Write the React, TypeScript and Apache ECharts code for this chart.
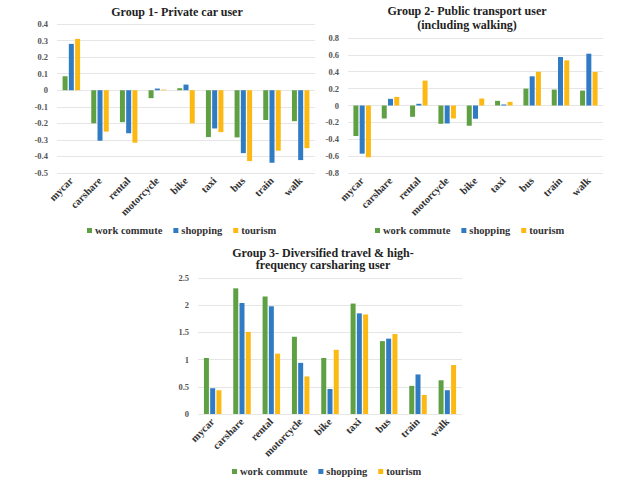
import React, { useEffect, useRef } from "react";
import * as echarts from "echarts";

const categories = ["mycar", "carshare", "rental", "motorcycle", "bike", "taxi", "bus", "train", "walk"];
const seriesNames = ["work commute", "shopping", "tourism"];
const colors = ["#5FA044", "#2F7BC4", "#FDB913"];

const g1Work = [0.084, -0.2, -0.193, -0.048, 0.012, -0.283, -0.285, -0.18, -0.187];
const g1Shop = [0.28, -0.305, -0.26, 0.01, 0.034, -0.231, -0.38, -0.438, -0.422];
const g1Tour = [0.31, -0.25, -0.317, 0.004, -0.2, -0.253, -0.428, -0.365, -0.35];

const g2Work = [-0.362, -0.154, -0.134, -0.217, -0.24, 0.055, 0.2, 0.189, 0.177];
const g2Shop = [-0.571, 0.079, 0.02, -0.213, -0.157, 0.012, 0.346, 0.575, 0.614];
const g2Tour = [-0.614, 0.102, 0.295, -0.154, 0.083, 0.043, 0.4, 0.535, 0.398];

const g3Work = [1.03, 2.31, 2.16, 1.42, 1.03, 2.03, 1.34, 0.517, 0.62];
const g3Shop = [0.474, 2.04, 1.98, 0.94, 0.46, 1.85, 1.385, 0.727, 0.437];
const g3Tour = [0.437, 1.51, 1.11, 0.69, 1.18, 1.83, 1.47, 0.35, 0.9];

const titles = [
  "Group 1- Private car user",
  "Group 2- Public transport user\n(including walking)",
  "Group 3- Diversified travel & high-\nfrequency carsharing user",
];

const FONT = "Liberation Serif";

export default function App() {
  const ref = useRef<HTMLDivElement>(null);
  useEffect(() => {
    if (!ref.current) return;
    const chart = echarts.init(ref.current, null, { renderer: "svg" });
    const grids = [
      { left: 57, top: 24, width: 258, height: 149 },
      { left: 348, top: 38, width: 255, height: 135 },
      { left: 198, top: 278, width: 264, height: 136 },
    ];
    const yRanges = [
      { min: -0.5, max: 0.4, interval: 0.1 },
      { min: -0.8, max: 0.8, interval: 0.2 },
      { min: 0, max: 2.5, interval: 0.5 },
    ];
    const data = [
      [g1Work, g1Shop, g1Tour],
      [g2Work, g2Shop, g2Tour],
      [g3Work, g3Shop, g3Tour],
    ];
    const titleCfg = [
      { x: 177, y: 4.5, fs: 12, lh: 14 },
      { x: 467, y: 4, fs: 12, lh: 14 },
      { x: 323, y: 246.5, fs: 12, lh: 12.5 },
    ];
    const legendPos = [
      { x: 87, y: 225 },
      { x: 375, y: 225 },
      { x: 232, y: 466 },
    ];
    const series: any[] = [];
    data.forEach((grp, gi) => {
      grp.forEach((vals, si) => {
        series.push({
          type: "bar",
          name: seriesNames[si],
          xAxisIndex: gi,
          yAxisIndex: gi,
          data: vals,
          barWidth: 5,
          barGap: "25%",
          itemStyle: { color: colors[si] },
        });
      });
    });
    chart.setOption({
      animation: false,
      backgroundColor: "#ffffff",
      title: titles.map((t, i) => ({
        text: t,
        left: titleCfg[i].x,
        top: titleCfg[i].y,
        padding: 0,
        textAlign: "center",
        textStyle: {
          fontFamily: FONT,
          fontWeight: "bold",
          fontSize: titleCfg[i].fs,
          lineHeight: titleCfg[i].lh,
          color: "#222",
        },
      })),
      legend: legendPos.map((p) => ({
        data: seriesNames,
        left: p.x,
        top: p.y,
        padding: 0,
        width: 260,
        icon: "rect",
        itemWidth: 5,
        itemHeight: 5,
        itemGap: 11,
        textStyle: { fontFamily: FONT, fontWeight: "bold", fontSize: 10.5, color: "#333", padding: [0, 0, 0, -2] },
      })),
      grid: grids,
      xAxis: grids.map((_, i) => ({
        type: "category",
        gridIndex: i,
        data: categories,
        axisLine: { show: false, onZero: false },
        axisTick: { show: false },
        axisLabel: {
          rotate: 45,
          interval: 0,
          margin: 6,
          fontFamily: FONT,
          fontWeight: "bold",
          fontSize: 10.5,
          color: "#333",
        },
      })),
      yAxis: yRanges.map((r, i) => ({
        type: "value",
        gridIndex: i,
        min: r.min,
        max: r.max,
        interval: r.interval,
        axisLine: { show: false },
        axisTick: { show: false },
        splitLine: { lineStyle: { color: "#e6e6e6", width: 1 } },
        axisLabel: {
          margin: 9,
          fontFamily: FONT,
          fontWeight: "bold",
          fontSize: 8.5,
          color: "#555",
        },
      })),
      series,
    });
    return () => chart.dispose();
  }, []);
  return (
    <div
      ref={ref}
      style={{ position: "absolute", left: 0, top: 0, width: 640, height: 480 }}
    />
  );
}
